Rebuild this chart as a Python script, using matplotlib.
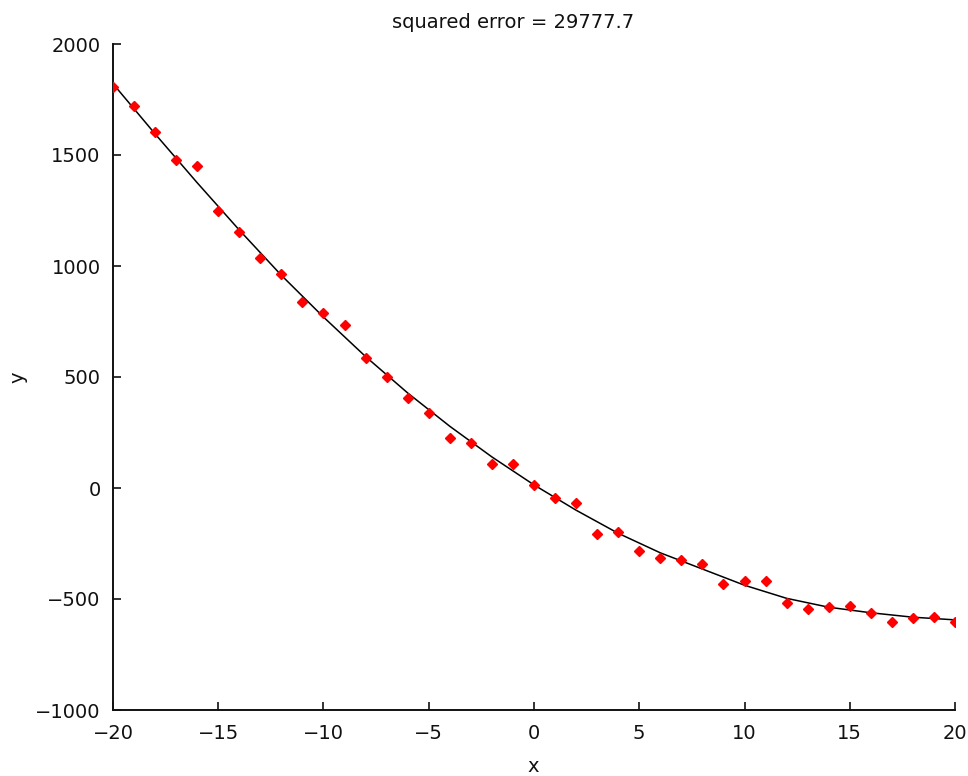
import numpy as np
import matplotlib
matplotlib.use("Agg")
import matplotlib.pyplot as plt

# measured points (red diamonds)
x_pts = list(range(-20, 21))
y_pts = [1806, 1721, 1605, 1477, 1450, 1248, 1152, 1036, 963, 839,
         790, 733, 587, 500, 404, 336, 224, 204, 108, 110,
         13, -46, -66, -209, -200, -285, -317, -323, -344, -434,
         -419, -419, -517, -546, -535, -532, -562, -602, -584, -581,
         -602]

# fitted curve
x_fit = [-20, -18, -16, -14, -12, -10, -8, -6, -4, -2, 0,
         2, 4, 6, 8, 10, 12, 14, 16, 18, 20]
y_fit = [1821, 1595, 1375, 1162, 958, 770, 592, 428, 278, 140, 14,
         -100, -204, -292, -365, -438, -497, -537, -562, -582, -594]

title = "squared error = 29777.7"
x_ticks = [-20, -15, -10, -5, 0, 5, 10, 15, 20]
y_ticks = [-1000, -500, 0, 500, 1000, 1500, 2000]

plt.rcParams['font.family'] = ['DejaVu Sans']

fig = plt.figure(figsize=(9.68, 7.76), dpi=100)
ax = fig.add_axes([113/968, 66/776, 842/968, 666/776])

ax.plot(x_fit, y_fit, color='black', lw=1.1, zorder=2)
ax.plot(x_pts, y_pts, 'D', color='red', ms=5.5, mec='red', zorder=3)

ax.set_xlim(-20, 20)
ax.set_ylim(-1000, 2000)
ax.set_xticks(x_ticks)
ax.set_yticks(y_ticks)
ax.set_xticklabels([str(v).replace('-', '\u2212') for v in x_ticks])
ax.set_yticklabels([str(v).replace('-', '\u2212') for v in y_ticks])

for s in ['top', 'right']:
    ax.spines[s].set_visible(False)
for s in ['left', 'bottom']:
    ax.spines[s].set_linewidth(1.4)
    ax.spines[s].set_color('#111111')

ax.tick_params(direction='in', length=6, width=1.2, colors='#111111',
               labelsize=14, pad=9)
ax.tick_params(axis='x', pad=10)

fig.text(513/968, 1 - 22/776, title, ha='center', va='center',
         fontsize=14, color='#111111')
fig.text(533/968, 1 - 766/776, 'x', ha='center', va='center',
         fontsize=14, color='#111111')
fig.text(18/968, 1 - 377/776, 'y', ha='center', va='center',
         rotation=90, fontsize=14, color='#111111')

fig.savefig('out.png', dpi=100)
